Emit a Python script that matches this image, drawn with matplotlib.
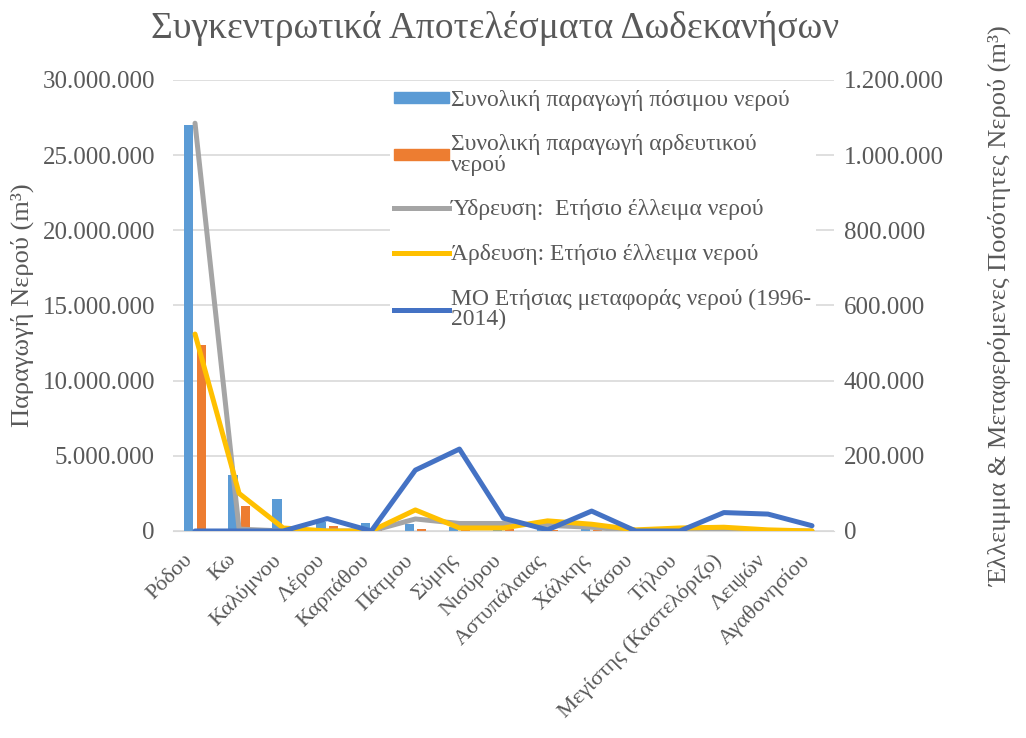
import numpy as np
import matplotlib.pyplot as plt
import matplotlib.transforms as mtransforms
from matplotlib.ticker import FuncFormatter
from matplotlib.patches import Patch
from matplotlib.lines import Line2D

plt.rcParams['font.family'] = ['Liberation Serif', 'DejaVu Serif']

# νησιά
islands = ["Ρόδου", "Κω", "Καλύμνου", "Λέρου", "Καρπάθου", "Πάτμου", "Σύμης",
           "Νισύρου", "Αστυπάλαιας", "Χάλκης", "Κάσου", "Τήλου",
           "Μεγίστης (Καστελόριζο)", "Λειψών", "Αγαθονησίου"]

# ράβδοι (αριστερός άξονας, m3)
potable = [27000000, 3700000, 2100000, 600000, 550000, 450000, 250000,
           300000, 200000, 150000, 100000, 120000, 150000, 100000, 50000]
irrigation = [12400000, 1650000, 100000, 300000, 400000, 150000, 100000,
              100000, 80000, 60000, 30000, 40000, 40000, 30000, 10000]

# γραμμές (δεξιός άξονας, m3)
water_supply_deficit = [1085000, 5000, 0, 0, 0, 32000, 20000,
                        20000, 15000, 10000, 0, 3000, 3000, 0, 0]
irrigation_deficit = [524000, 100000, 8000, 0, 0, 56000, 8000,
                      8000, 27000, 18000, 3000, 8000, 10000, 3000, 0]
mean_transfer = [0, 0, 0, 33000, 0, 162000, 218000,
                 34000, 3000, 53000, 0, 0, 49000, 45000, 14000]

labels = ["Συνολική παραγωγή πόσιμου νερού",
          "Συνολική παραγωγή αρδευτικού\nνερού",
          "Ύδρευση:  Ετήσιο έλλειμα νερού",
          "Άρδευση: Ετήσιο έλλειμα νερού",
          "ΜΟ Ετήσιας μεταφοράς νερού (1996-\n2014)"]
colors = ["#5B9BD5", "#ED7D31", "#A5A5A5", "#FFC000", "#4472C4"]
txt = "#595959"


def dots(v, pos):
    return f"{int(v):,}".replace(",", ".")


fig = plt.figure(figsize=(10.26, 7.38), dpi=100)
ax = fig.add_axes([0.1686, 0.2805, 0.6443, 0.6111])
ax2 = ax.twinx()

x = np.arange(len(islands))
w = 0.21
ax.bar(x - 0.14, potable, w, color=colors[0], zorder=2)
ax.bar(x + 0.14, irrigation, w, color=colors[1], zorder=2)

ax2.plot(x, water_supply_deficit, color=colors[2], lw=3.6, solid_capstyle='round')
ax2.plot(x, irrigation_deficit, color=colors[3], lw=3.6, solid_capstyle='round')
ax2.plot(x, mean_transfer, color=colors[4], lw=3.6, solid_capstyle='round')

ax.set_xlim(-0.5, len(islands) - 0.5)
ax.set_ylim(0, 30000000)
ax2.set_ylim(0, 1200000)
ax.set_yticks(np.arange(0, 30000001, 5000000))
ax2.set_yticks(np.arange(0, 1200001, 200000))
ax.yaxis.set_major_formatter(FuncFormatter(dots))
ax2.yaxis.set_major_formatter(FuncFormatter(dots))
ax.grid(axis='y', color='#D9D9D9', lw=1.2, zorder=0)
ax.set_axisbelow(True)

for a in (ax, ax2):
    for s in a.spines.values():
        s.set_visible(False)
    a.tick_params(length=0, labelsize=18, labelcolor=txt)
ax.tick_params(axis='y', pad=13)
ax2.tick_params(axis='y', pad=7)
ax.spines['bottom'].set_visible(True)
ax.spines['bottom'].set_color('#D9D9D9')

ax.set_xticks(x)
ax.set_xticklabels(islands, rotation=45, ha='right', rotation_mode='anchor')
ax.tick_params(axis='x', labelsize=16, pad=14)
shift = mtransforms.ScaledTranslation(-12 / 100, 0, fig.dpi_scale_trans)
for lab in ax.get_xticklabels():
    lab.set_transform(lab.get_transform() + shift)

ax.set_ylabel("Παραγωγή Νερού (m³)", fontsize=19, color=txt, labelpad=6)
ax2.set_ylabel("Έλλειμμα & Μεταφερόμενες Ποσότητες Νερού (m³)", fontsize=19,
               color=txt, rotation=90, labelpad=32)

fig.suptitle("Συγκεντρωτικά Αποτελέσματα Δωδεκανήσων", fontsize=27,
             color=txt, x=0.4825, y=0.985)

handles = [Patch(color=colors[0]), Patch(color=colors[1]),
           Line2D([], [], color=colors[2], lw=3.6),
           Line2D([], [], color=colors[3], lw=3.6),
           Line2D([], [], color=colors[4], lw=3.6)]
leg = ax2.legend(handles, labels, loc='upper left', bbox_to_anchor=(0.31, 1.015),
                 fontsize=17, labelcolor=txt, frameon=True, facecolor='white',
                 edgecolor='none', framealpha=1, handlelength=2.3,
                 handleheight=0.35, handletextpad=0.1, labelspacing=1.0,
                 borderpad=0.2)
for t in leg.get_texts():
    t.set_linespacing(0.95)

fig.savefig("out.png", dpi=100)
